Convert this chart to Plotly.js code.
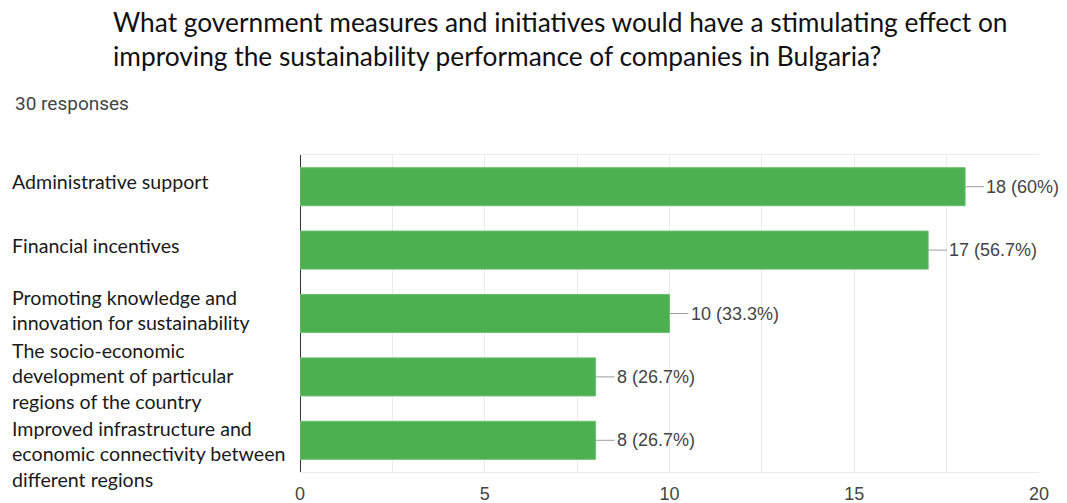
<!DOCTYPE html>
<html>
<head>
<meta charset="utf-8">
<script src="https://cdn.plot.ly/plotly-3.0.1.min.js"></script>
<style>
  html, body { margin: 0; padding: 0; background: #fff; }
  #chart { width: 1067px; height: 503px; }
</style>
</head>
<body>
<div id="chart"></div>
<script>
// ---- data ----
const categories = [
  "Administrative support",
  "Financial incentives",
  "Promoting knowledge and<br>innovation for sustainability",
  "The socio-economic<br>development of particular<br>regions of the country",
  "Improved infrastructure and<br>economic connectivity between<br>different regions"
];
const counts = [18, 17, 10, 8, 8];
const pctLabels = ["60%", "56.7%", "33.3%", "26.7%", "26.7%"];
const tickVals = [0, 5, 10, 15, 20];
const titleText = "What government measures and initiatives would have a stimulating effect on<br>improving the sustainability performance of companies in Bulgaria?";
const responsesText = "30 responses";

// ---- style ----
const labelShift = [5, 5, 4, 1, -14];

const trace = {
  type: "bar",
  orientation: "h",
  x: counts,
  y: categories,
  marker: { color: "#4caf50", line: { color: "#6cbf6f", width: 1 } },
  hoverinfo: "skip"
};

const annotations = [];
categories.forEach((c, i) => {
  annotations.push({
    xref: "paper", yref: "y",
    x: -0.393, y: c,
    text: c,
    showarrow: false,
    xanchor: "left", yanchor: "middle", align: "left",
    yshift: labelShift[i],
    font: { family: "Lato, 'Open Sans', sans-serif", size: 19.6, color: "#1a1a1a" }
  });
  annotations.push({
    xref: "x", yref: "y",
    x: counts[i], y: c,
    text: counts[i] + " (" + pctLabels[i] + ")",
    showarrow: true, arrowhead: 0, arrowwidth: 1, arrowcolor: "#9e9e9e",
    ax: 19, ay: 0, standoff: 0,
    xanchor: "left", yanchor: "middle",
    font: { family: "'Liberation Sans', Arial, sans-serif", size: 18, color: "#444" }
  });
});
annotations.push({
  xref: "paper", yref: "paper",
  x: -0.389, y: 1.161,
  text: responsesText, showarrow: false,
  xanchor: "left", yanchor: "middle",
  font: { family: "Roboto, 'Liberation Sans', sans-serif", size: 19, color: "#444" }
});
annotations.push({
  xref: "paper", yref: "paper",
  x: -0.2556, y: 1.366,
  text: titleText, showarrow: false,
  xanchor: "left", yanchor: "middle", align: "left",
  font: { family: "Lato, 'Open Sans', sans-serif", size: 26.3, color: "#111" }
});

const layout = {
  width: 1067, height: 503,
  margin: { l: 300, r: 28, t: 155, b: 31 },
  paper_bgcolor: "#fff", plot_bgcolor: "#fff",
  showlegend: false,
  bargap: 0.4,
  xaxis: {
    range: [0, 20],
    tickvals: tickVals,
    ticks: "outside", ticklen: 5, tickcolor: "rgba(0,0,0,0)",
    showgrid: true, gridcolor: "#ebebeb", gridwidth: 1,
    minor: { dtick: 2.5, showgrid: true, gridcolor: "#ebebeb", gridwidth: 1 },
    zeroline: true, zerolinecolor: "#333", zerolinewidth: 1,
    showline: true, linecolor: "#ebebeb", linewidth: 1, mirror: true,
    tickfont: { family: "'Liberation Sans', Arial, sans-serif", size: 18, color: "#444" },
    fixedrange: true
  },
  yaxis: {
    type: "category",
    autorange: "reversed",
    showticklabels: false,
    showgrid: false, zeroline: false, showline: false,
    fixedrange: true
  },
  annotations: annotations
};

Plotly.newPlot("chart", [trace], layout, { displayModeBar: false, staticPlot: true });
</script>
</body>
</html>
